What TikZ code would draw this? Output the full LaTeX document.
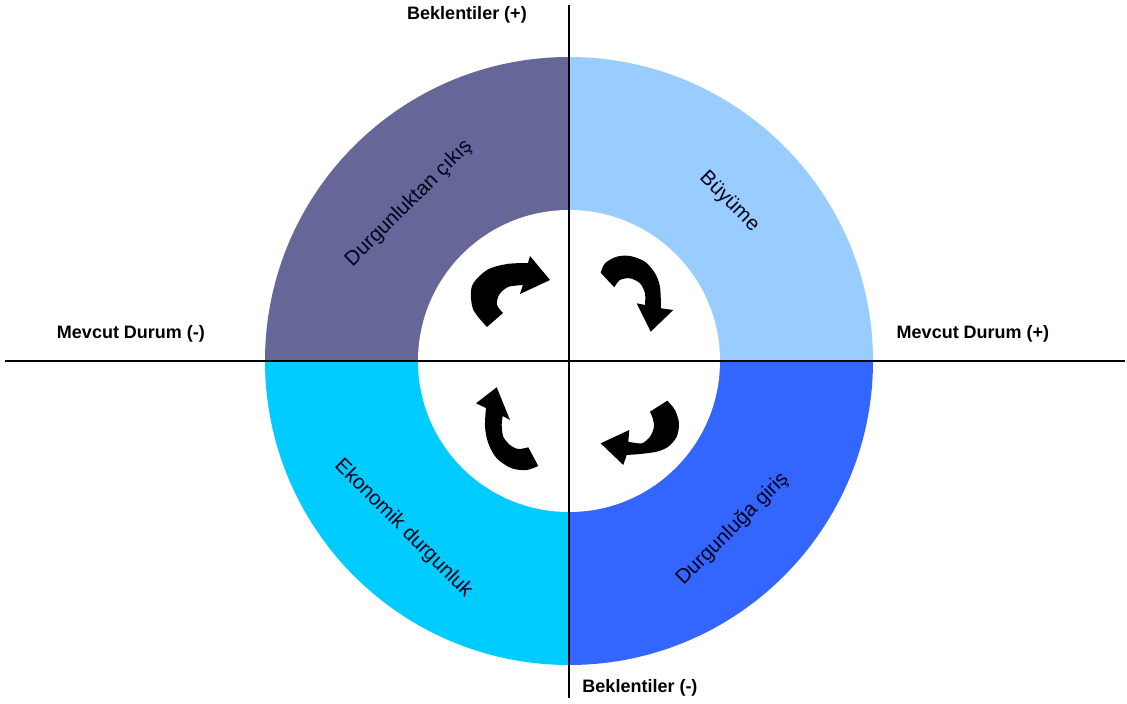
\documentclass[tikz,border=0pt]{standalone}
\usepackage{fontspec}
\setmainfont{Liberation Sans}
\definecolor{qtl}{HTML}{666699}
\definecolor{qtr}{HTML}{99CCFF}
\definecolor{qbl}{HTML}{00CCFF}
\definecolor{qbr}{HTML}{3366FF}
\begin{document}
\begin{tikzpicture}[x=1pt,y=1pt,
  axisline/.style={line width=2.4pt,black},
  axislabel/.style={font=\fontsize{18}{20}\selectfont\bfseries,inner sep=0pt},
  ringlabel/.style={font=\fontsize{20.5}{22}\selectfont,inner sep=0pt,text=black!90!blue},
  cyclearrow/.style={fill=black}]
\useasboundingbox (-569,-343) rectangle (558,361);
\fill[white] (-569,-343) rectangle (558,361);
% ring quadrants
\fill[qtl] (0,0) -- (180:304) arc[start angle=180,end angle=90,radius=304] -- cycle;
\fill[qtr] (0,0) -- (90:304) arc[start angle=90,end angle=0,radius=304] -- cycle;
\fill[qbr] (0,0) -- (0:304) arc[start angle=0,end angle=-90,radius=304] -- cycle;
\fill[qbl] (0,0) -- (270:304) arc[start angle=270,end angle=180,radius=304] -- cycle;
\fill[white] (0,0) circle[radius=151];
% axes
\coordinate (xl) at (-564,0);
\coordinate (xr) at (556,0);
\coordinate (yt) at (0,356);
\coordinate (yb) at (0,-337);
\draw[axisline] (xl) -- (xr);
\draw[axisline] (yt) -- (yb);
% axis labels
\node[axislabel] (mneg) at (-438,27) {Mevcut Durum (-)};
\node[axislabel] (mpos) at (404,27) {Mevcut Durum (+)};
\node[axislabel] (bpos) at (-102,346) {Beklentiler (+)};
\node[axislabel] (bneg) at (71,-327) {Beklentiler (-)};
% ring labels
\node[ringlabel,rotate=45] (ltl) at (-160,157.5) {Durgunluktan çıkış};
\node[ringlabel,rotate=-45] (ltr) at (160,159) {Büyüme};
\node[ringlabel,rotate=-45] (lbl) at (-165.7,-167.3) {Ekonomik durgunluk};
\node[ringlabel,rotate=45] (lbr) at (163.5,-168) {Durgunluğa giriş};
% cycle arrows
\fill[cyclearrow] plot[smooth] coordinates {(-82,34) (-96,52) (-97,75) (-82,91) (-62,97) (-41,98)}
  -- (-39,105) -- (-19,81) -- (-49,67)
  -- plot[smooth] coordinates {(-46,76) (-61,74) (-70,66) (-72,56) (-66,48)} -- cycle;
\fill[cyclearrow] plot[smooth] coordinates {(31.7,88.3) (36,97.7) (47.7,104.3) (61,105) (76,99.3) (86,87.7) (91,74.3) (92,52.7)}
  -- (104.3,51) -- (81.7,29.3) -- (67.7,57.7)
  -- plot[smooth] coordinates {(76,56) (76,67.7) (71,77.7) (61,82.7) (51,81) (45.3,73.7)} -- cycle;
\fill[cyclearrow] plot[smooth] coordinates {(98.3,-39.7) (106,-49) (110,-62.3) (107.7,-75.7) (99.3,-85.7) (87.7,-90.7) (71,-93) (57.7,-94)}
  -- (54.3,-104) -- (31.7,-82.3) -- (60.3,-69)
  -- plot[smooth] coordinates {(59.3,-80.7) (72.7,-82.3) (81,-75.7) (85,-65.7) (83.7,-57.3) (81,-50.7)} -- cycle;
\fill[cyclearrow] plot[smooth] coordinates {(-30.7,-105) (-42.3,-109) (-57.3,-107.3) (-72.3,-97.3) (-80.7,-82.3) (-84,-65.7) (-83,-47)}
  -- (-93,-42.3) -- (-72.3,-26.3) -- (-59,-59)
  -- plot[smooth] coordinates {(-66.3,-55) (-67.3,-64) (-65.7,-75.7) (-59,-84) (-50.7,-88) (-40.7,-86.3)} -- cycle;
\end{tikzpicture}
\end{document}
